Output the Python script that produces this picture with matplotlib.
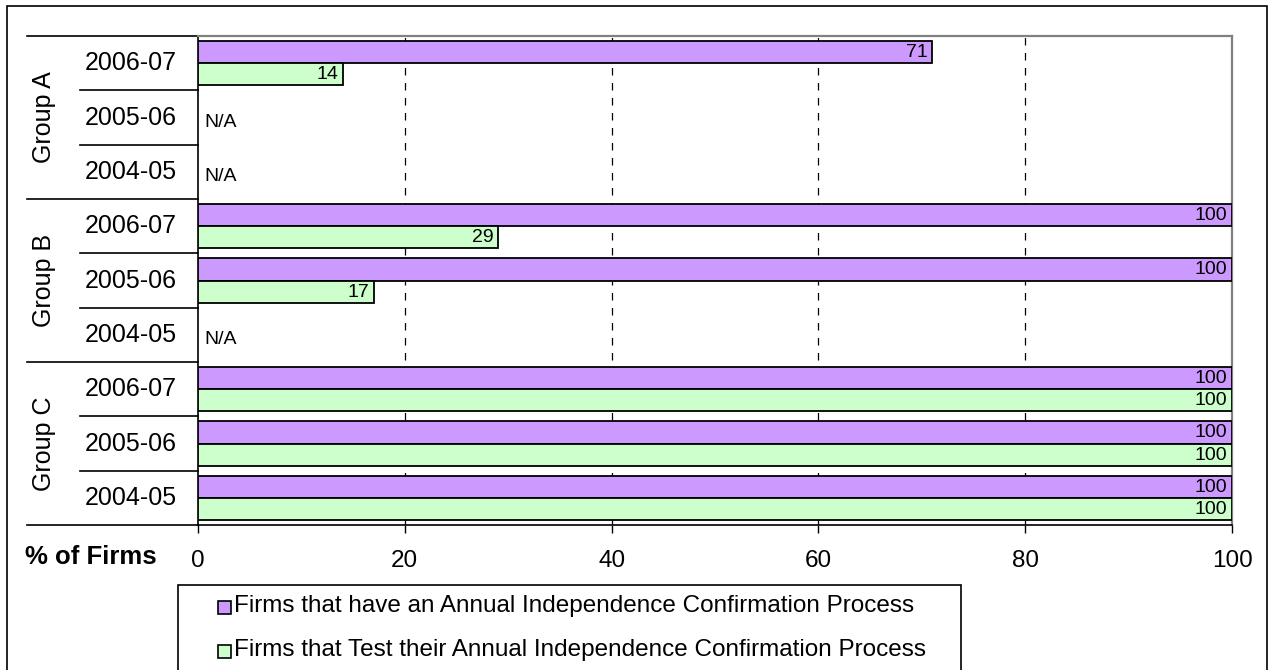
import numpy as np
import matplotlib
matplotlib.use("Agg")
import matplotlib.pyplot as plt
from matplotlib.patches import Rectangle
from matplotlib.transforms import blended_transform_factory

plt.rcParams['font.family'] = ['Liberation Sans', 'DejaVu Sans']

groups = ["Group A", "Group B", "Group C"]
years = ["2006-07", "2005-06", "2004-05"]
series_names = [
    "Firms that have an Annual Independence Confirmation Process",
    "Firms that Test their Annual Independence Confirmation Process",
]
have_process = [71, np.nan, np.nan, 100, 100, np.nan, 100, 100, 100]
test_process = [14, np.nan, np.nan, 29, 17, np.nan, 100, 100, 100]
x_ticks = [0, 20, 40, 60, 80, 100]
axis_title = "% of Firms"
missing_label = "N/A"

colors = ["#CC99FF", "#CCFFCC"]

W, H = 1272, 670
fig = plt.figure(figsize=(W / 100, H / 100), dpi=100)


def fx(px):
    return px / W


def fy(py):
    return 1 - py / H


left, right, top, bottom = 198, 1232, 36, 525
ax = fig.add_axes([fx(left), fy(bottom), fx(right - left), (bottom - top) / H])

n_rows = len(groups) * len(years)
ypos = np.arange(n_rows)
bar_h = 0.41
off = 0.205

for vals, col, dy in [(have_process, colors[0], -off), (test_process, colors[1], off)]:
    v = np.array(vals, dtype=float)
    mask = ~np.isnan(v)
    ax.barh(ypos[mask] + dy, v[mask], height=bar_h, color=col,
            edgecolor="black", linewidth=1.3, zorder=3)
    for y, val in zip(ypos[mask] + dy, v[mask]):
        ax.text(val - 0.45, y + 0.01, f"{val:.0f}", ha="right", va="center",
                fontsize=14, zorder=4)

# rows with no data in either series
for y, a, b in zip(ypos, have_process, test_process):
    if np.isnan(a) and np.isnan(b):
        ax.text(0.6, y + 0.09, missing_label, ha="left", va="center", fontsize=14)

ax.set_xlim(0, 100)
ax.set_ylim(n_rows - 0.5, -0.5)
ax.set_xticks(x_ticks)
ax.set_xticklabels([str(t) for t in x_ticks], fontsize=17.5)
ax.tick_params(axis="x", direction="out", length=6, width=1, pad=12, colors="black")
ax.set_yticks([])

for xv in x_ticks[1:-1]:
    ax.axvline(xv, color="black", lw=0.9, ls=(0, (6, 6)), zorder=1)

for side in ["left", "bottom"]:
    ax.spines[side].set_color("black")
    ax.spines[side].set_linewidth(1.2)
for side in ["right", "top"]:
    ax.spines[side].set_color("#808080")
    ax.spines[side].set_linewidth(1.6)

# hierarchical category axis
tr = blended_transform_factory(ax.transAxes, ax.transData)
w_ax = right - left
x_grp = (27 - left) / w_ax
x_yr = (80 - left) / w_ax
x_yr_lbl = (131 - left) / w_ax
x_grp_lbl = (44 - left) / w_ax

for i in range(n_rows + 1):
    y = i - 0.5
    x0 = x_grp if i % len(years) == 0 else x_yr
    ax.plot([x0, 0], [y, y], color="black", lw=1.2, transform=tr, clip_on=False)

for i in range(n_rows):
    ax.text(x_yr_lbl, i, years[i % len(years)], ha="center", va="center",
            fontsize=18, transform=tr)

for g, name in enumerate(groups):
    yc = g * len(years) + (len(years) - 1) / 2
    ax.text(x_grp_lbl, yc, name, ha="center", va="center", rotation=90,
            fontsize=18, transform=tr)

fig.text(fx(25), fy(557), axis_title, ha="left", va="center",
         fontsize=18.5, fontweight="bold")

# outer frame
fig.patches.append(Rectangle((fx(7), fy(700)), fx(1267 - 7), (700 - 6) / H,
                             transform=fig.transFigure, fill=False,
                             edgecolor="black", lw=1.2))

# legend box
fig.patches.append(Rectangle((fx(178), fy(700)), fx(961 - 178), (700 - 585) / H,
                             transform=fig.transFigure, facecolor="white",
                             edgecolor="black", lw=1.2))
for k, (name, col) in enumerate(zip(series_names, colors)):
    yc = 606 + k * 44
    fig.patches.append(Rectangle((fx(218), fy(yc + 8)), fx(13), 13 / H,
                                 transform=fig.transFigure, facecolor=col,
                                 edgecolor="black", lw=1.2))
    fig.text(fx(234), fy(yc), name, ha="left", va="center", fontsize=17.5)

fig.savefig("out.png", dpi=100)
